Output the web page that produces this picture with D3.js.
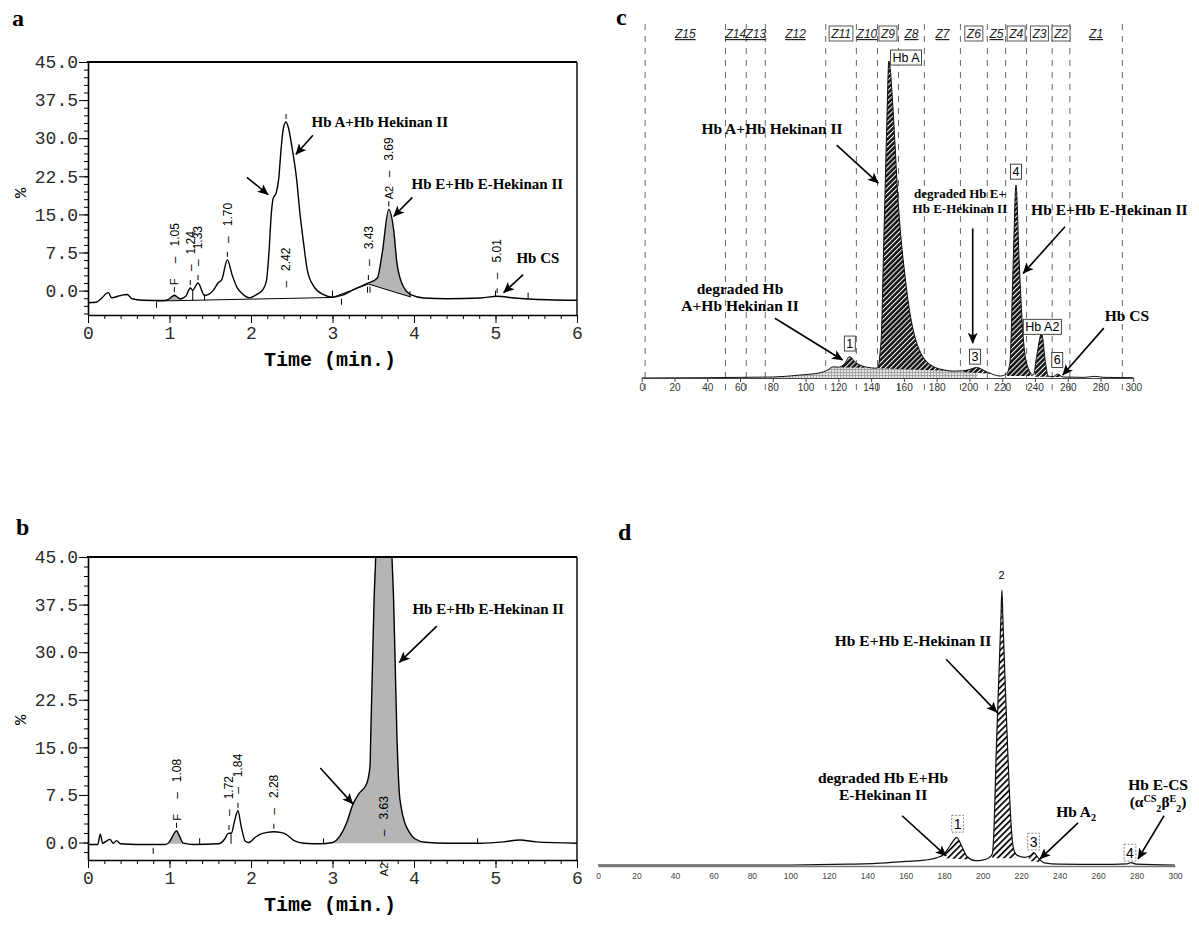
<!DOCTYPE html>
<html>
<head>
<meta charset="utf-8">
<script src="https://cdn.jsdelivr.net/npm/d3@7/dist/d3.min.js"></script>
<style>
  body { margin: 0; background: #fff; }
  svg { display: block; }
  .mono { font-family: "Liberation Mono", "DejaVu Sans Mono", monospace; }
  .note { font-family: "Liberation Serif", "DejaVu Serif", serif; font-weight: bold; }
  .sans { font-family: "Liberation Sans", Arial, sans-serif; }
</style>
</head>
<body>
<svg id="fig" width="1199" height="926"></svg>
<script>
// ---------- panel a : HPLC trace, time (min) vs %
const traceA = [[0,-2.4],[0.1,-2.3],[0.16,-1.6],[0.25,-0.4],[0.29,-1.4],[0.4,-0.95],[0.48,-0.75],[0.54,-1.6],
  [0.67,-1.9],[0.93,-1.95],[1.0,-1.6],[1.06,-0.9],[1.13,-1.6],[1.2,-1.1],[1.255,0.5],[1.285,0.1],[1.35,1.5],
  [1.43,-0.95],[1.54,0.1],[1.6,1.6],[1.64,2.1],[1.71,6.05],[1.77,3.0],[1.83,0.6],[1.89,-0.55],[1.98,-1.4],
  [2.07,-0.75],[2.15,0.3],[2.19,2.0],[2.22,7.4],[2.25,15.3],[2.27,18.0],[2.31,19.3],[2.34,22],[2.37,28],
  [2.40,32.2],[2.43,33.2],[2.46,32],[2.5,28.5],[2.56,21.9],[2.6,15.3],[2.65,8.75],[2.69,4.1],[2.77,0.85],
  [2.89,-0.8],[3.0,-1.3],[3.12,-0.9],[3.26,0.2],[3.44,1.5],[3.55,2.5],[3.61,7.4],[3.69,16.0],[3.75,12],
  [3.79,5.5],[3.85,1.5],[3.96,-0.8],[4.12,-1.45],[4.41,-1.6],[4.82,-1.45],[5.02,-1.1],[5.23,-1.45],
  [5.64,-1.8],[6.0,-1.9]];
const baseA = [[0.84,-2.05],[3.0,-1.35],[3.44,1.3],[3.96,-1.25]];
const fillA = [[0.98,1.16,-2.0,-1.95],[3.44,3.96,1.3,-1.25]];      // t0, t1, base0, base1
const dropA = [[1.285,0.1,-1.95]];
const eventsA = [[0.84,-2.8],[1.43,-1.3],[3.0,-0.6],[3.11,-2.2],[3.43,0.2],[3.46,0.2],[3.95,-0.7],[5.0,-0.6],[5.4,-1.0]];
// time, apex, name, label, label start (if placed inside the peak)
const peaksA = [[1.06,-0.9,"F","1.05"],[1.255,0.5,"","1.24"],[1.35,1.5,"","1.33"],[1.71,6.05,"","1.70"],
  [2.43,33.2,"","2.42",0.6],[3.44,1.5,"","3.43"],[3.69,16.0,"A2","3.69"],[5.02,-1.1,"","5.01"]];
const notesA = [
  {text: ["Hb A+Hb Hekinan II"], at: [3.58, 32.3], from: [2.76, 30.6], to: [2.55, 26.8]},
  {text: [], at: [0, 0], from: [1.95, 22.3], to: [2.21, 18.9]},
  {text: ["Hb E+Hb E-Hekinan II"], at: [4.9, 20.0], from: [3.98, 18.35], to: [3.75, 14.6]},
  {text: ["Hb CS"], at: [5.52, 5.4], from: [5.34, 3.16], to: [5.1, -0.4]}
];

// ---------- panel b
const traceB = [[0,-0.3],[0.12,-0.3],[0.15,1.3],[0.18,-0.1],[0.22,0.2],[0.27,0.5],[0.31,-0.1],[0.35,0.3],
  [0.4,-0.2],[0.6,-0.3],[0.95,-0.3],[1.0,0.1],[1.05,1.3],[1.086,1.85],[1.12,1.1],[1.17,-0.1],[1.3,-0.3],
  [1.6,-0.2],[1.68,0.6],[1.72,1.45],[1.76,1.5],[1.8,3.5],[1.84,5.0],[1.88,2.5],[1.93,0.2],[1.97,0],
  [2.05,0.8],[2.11,1.3],[2.2,1.6],[2.28,1.7],[2.36,1.6],[2.43,1.3],[2.53,0.3],[2.65,-0.1],[2.85,-0.2],
  [3.0,0],[3.1,1.2],[3.17,3.0],[3.25,6.0],[3.32,7.65],[3.42,9.3],[3.46,12.0],[3.47,17.2],[3.49,27.7],
  [3.51,38.2],[3.53,45],[3.58,75],[3.63,88],[3.68,75],[3.73,45],[3.75,38.2],[3.77,27.7],[3.79,17.2],
  [3.82,7.8],[3.84,5.75],[3.89,3.0],[3.95,1.5],[4.01,0.6],[4.14,0.05],[4.4,-0.1],[4.8,-0.1],[5.1,0.1],
  [5.3,0.4],[5.5,0.1],[6.0,-0.1]];
const baseB = [];
const fillB = [[0.98,1.17,-0.2,-0.2],[2.95,4.15,-0.1,-0.1]];
const dropB = [[1.755,1.45,-0.2]];
const eventsB = [[0.8,-1.3],[1.37,0.2],[2.89,0.2],[4.78,0.2]];
const peaksB = [[1.086,1.85,"F","1.08"],[1.73,1.5,"","1.72"],[1.84,5.0,"","1.84"],[2.28,1.7,"","2.28"],
  [3.63,88,"A2","3.63",1.0,-5.3]];
const notesB = [
  {text: ["Hb E+Hb E-Hekinan II"], at: [4.91, 36.0], from: [4.28, 34.1], to: [3.82, 28.4]},
  {text: [], at: [0, 0], from: [2.85, 11.75], to: [3.25, 6.1]}
];

const timeTicks = [0, 1, 2, 3, 4, 5, 6];
const pctTicks = [0, 7.5, 15, 22.5, 30, 37.5, 45];

// ---------- panel c : capillary electrophoresis, zones
const traceC = [[0,0],[40,0.1],[60,0.2],[80,0.3],[96.6,0.9],[108.8,1.6],[113,2.3],[116.9,3.4],[120,3.3],
  [124,4.5],[126.7,6.5],[131.2,4.5],[137.3,3.3],[143,3.0],[144.4,3.6],[145.5,8],[146.4,14.6],[147.4,35],
  [148.4,55],[149.5,76],[150.8,96.6],[151.5,95],[153,85],[154.5,72],[156,58],[158,44],[160.5,32],[163,22],
  [166,14],[169.5,8.5],[173,5.5],[178,3.5],[184,2.5],[190,2.1],[196,2.2],[200,2.6],[204.4,3.2],[210.5,1.9],
  [218.6,0.6],[222.5,1.2],[224.7,4.5],[226.7,35],[228.4,58.8],[230.4,35],[232.5,14.6],[234.9,4.5],[239,0.9],
  [241,6.5],[244,13.5],[246.5,4.5],[248,0.6],[251,0.4],[253.8,1.2],[257.2,0.3],[270,0.2],[276.6,0.5],
  [282,0.2],[300,0.1]];
const hatchPeaksC = [[121.5,136,3.2,3.1],[143.5,190,3.0,2.1],[196,213,1.8,1.3],[223,238.5,0.6,0.6],
  [240,248.5,0.4,0.4],[251.5,257,0.3,0.3]];
const greyZoneC = [78, 205];
const zoneBounds = [2.1, 51.1, 63.8, 75.4, 112.3, 131, 143.9, 156.7, 172.5, 194.5, 210.9, 222.1, 234.9, 250.5, 261.3, 293.3];
const zoneNames = ["Z15","Z14","Z13","Z12","Z11","Z10","Z9","Z8","Z7","Z6","Z5","Z4","Z3","Z2","Z1"];
const zoneBoxed = ["Z11","Z9","Z6","Z4","Z3","Z2"];
const boxesC = [[127,10.5,"1"],[161.3,97.7,"Hb A"],[203.4,6.5,"3"],[228.4,62.9,"4"],[244.5,15.6,"Hb A2"],[253.6,5.5,"6"]];
const notesC = [
  {text: ["Hb A+Hb Hekinan II"], at: [79.5, 74.3], from: [119, 71], to: [144.4, 59.4]},
  {text: ["degraded Hb", "A+Hb Hekinan II"], at: [60, 25.7], from: [81.3, 18.2], to: [122.6, 5.5]},
  {text: ["degraded Hb E+", "Hb E-Hekinan II"], at: [194.2, 54.8], from: [202, 45.6], to: [202, 10.6], small: true},
  {text: ["Hb E+Hb E-Hekinan II"], at: [285.4, 49.6], from: [258.3, 46.1], to: [232.8, 31.9]},
  {text: ["Hb CS"], at: [296.1, 17.4], from: [282, 15.2], to: [256.9, 0.9]}
];
const ceTicks = [0,20,40,60,80,100,120,140,160,180,200,220,240,260,280,300];

// ---------- panel d
const traceD = [[0,0],[100,0],[130,0.3],[150,0.8],[160,1.3],[170,1.8],[176,2.6],[180,4],[183,7],[186.5,10],
  [189,7],[192,3],[196,1.6],[200,1.8],[203,2.5],[205,4],[206,15],[207,40],[208.5,70],[209.5,90],[210,100],
  [210.5,90],[211.5,70],[213,42],[214.5,18],[216,6],[218,3.5],[222,2.8],[225,3.5],[226.5,4.5],[229,2.5],
  [232,0.8],[240,0.3],[260,0.2],[275,0.4],[277,0.9],[280,0.3],[300,0]];
const hatchPeaksD = [[180.5,192.5,2.5,2.0],[205,217,2.5,2.5],[224,230.5,1.5,1.0]];
const boxesD = [[187,15,"1"],[226.5,8.5,"3"],[276.6,4.5,"4"]];
const notesD = [
  {text: ["Hb E+Hb E-Hekinan II"], at: [163.8, 79.5], from: [181, 74.8], to: [207.5, 55.5]},
  {text: ["degraded Hb E+Hb", "E-Hekinan II"], at: [148.2, 30], from: [158.1, 17.9], to: [181, 3.3]},
  {text: ["Hb A|2"], at: [248.6, 17.5], from: [249.6, 15.3], to: [229.8, 2.2]},
  {text: ["Hb E-CS", "(α^CS|2β^E|2)"], at: [291.2, 27.3], from: [294.3, 17.9], to: [280.8, 2.2]}
];

// ================= drawing =================
const svg = d3.select("#fig");
const defs = svg.append("defs");

defs.append("marker").attr("id", "arr").attr("viewBox", "0 0 10 10")
  .attr("refX", 9.5).attr("refY", 5).attr("markerWidth", 11).attr("markerHeight", 11)
  .attr("markerUnits", "userSpaceOnUse").attr("orient", "auto")
  .append("path").attr("d", "M0,0.5 L10,5 L0,9.5 L2.5,5 z").attr("fill", "#000");

function stripes(id, size, bg, fg, w) {
  const p = defs.append("pattern").attr("id", id).attr("width", size).attr("height", size)
    .attr("patternUnits", "userSpaceOnUse").attr("patternTransform", "rotate(45)");
  p.append("rect").attr("width", size).attr("height", size).attr("fill", bg);
  p.append("line").attr("x1", 0.5).attr("x2", 0.5).attr("y1", 0).attr("y2", size)
    .attr("stroke", fg).attr("stroke-width", w);
}
stripes("hatchC", 3.6, "#111", "#fff", 1.1);
stripes("hatchD", 4.4, "#fff", "#111", 2.7);
const grid = defs.append("pattern").attr("id", "gridC").attr("width", 3).attr("height", 3)
  .attr("patternUnits", "userSpaceOnUse");
grid.append("rect").attr("width", 3).attr("height", 3).attr("fill", "#e4e4e4");
grid.append("path").attr("d", "M0.5,0V3M0,0.5H3").attr("stroke", "#909090").attr("stroke-width", 0.7);

// text with ^sup and |sub markers
function richText(sel, str, size) {
  const parts = str.split(/(?=[\^|])/);
  let shift = 0;
  parts.forEach(p => {
    let dy = 0, fs = size, s = p;
    if (p[0] === "^") { dy = -size * 0.35 - shift; shift = -size * 0.35; fs = size * 0.65; s = p.slice(1); }
    else if (p[0] === "|") {
      // subscript: first char only, rest back on baseline
      const sub = p[1], rest = p.slice(2);
      sel.append("tspan").attr("dy", size * 0.28 - shift).attr("font-size", size * 0.65).text(sub);
      shift = size * 0.28;
      if (rest) { sel.append("tspan").attr("dy", -shift).attr("font-size", size).text(rest); shift = 0; }
      return;
    } else if (shift !== 0) { dy = -shift; shift = 0; }
    sel.append("tspan").attr("dy", dy).attr("font-size", fs).text(s);
  });
}

function notes(g, x, y, list, size) {
  list.forEach(n => {
    const fs = n.small ? 13 : size;
    n.text.forEach((line, i) => {
      const t = g.append("text").attr("class", "note").attr("x", x(n.at[0]))
        .attr("y", y(n.at[1]) + i * (fs + 2)).attr("text-anchor", "middle").attr("font-size", fs)
        .style("white-space", "pre");
      richText(t, line, fs);
    });
    g.append("line").attr("x1", x(n.from[0])).attr("y1", y(n.from[1]))
      .attr("x2", x(n.to[0])).attr("y2", y(n.to[1]))
      .attr("stroke", "#000").attr("stroke-width", 1.6).attr("marker-end", "url(#arr)");
  });
}

function peakFills(plot, x, y, clipId, list, fill, top) {
  list.forEach(([u0, u1, b0, b1]) => {
    plot.append("path").attr("clip-path", `url(#${clipId})`)
      .attr("d", `M${x(u0)},${y(b0)}L${x(u1)},${y(b1)}L${x(u1)},${top}L${x(u0)},${top}Z`)
      .attr("fill", fill);
  });
}

function hplc(o) {
  const g = svg.append("g");
  const x = d3.scaleLinear().domain([0, 6]).range([88, 577]);
  const y = d3.scaleLinear().domain(o.yDomain).range(o.yRange);
  const top = o.yRange[1], bot = o.yRange[0];
  defs.append("clipPath").attr("id", "box" + o.id).append("rect")
    .attr("x", 88).attr("y", top).attr("width", 489).attr("height", bot - top);
  const line = d3.line().x(d => x(d[0])).y(d => y(d[1])).curve(d3.curveMonotoneX);
  const under = d3.area().x(d => x(d[0])).y0(bot).y1(d => y(d[1])).curve(d3.curveMonotoneX);
  defs.append("clipPath").attr("id", "under" + o.id).append("path").attr("d", under(o.trace));

  const plot = g.append("g").attr("clip-path", `url(#box${o.id})`);
  peakFills(plot, x, y, "under" + o.id, o.fills, "#b5b5b5", top);
  if (o.base.length) plot.append("path").attr("d", d3.line().x(d => x(d[0])).y(d => y(d[1]))(o.base))
    .attr("fill", "none").attr("stroke", "#000").attr("stroke-width", 1);
  plot.append("path").attr("d", line(o.trace)).attr("fill", "none")
    .attr("stroke", "#000").attr("stroke-width", 1.4);
  o.drops.forEach(([t, v0, v1]) => plot.append("line").attr("x1", x(t)).attr("x2", x(t))
    .attr("y1", y(v0)).attr("y2", y(v1)).attr("stroke", "#000").attr("stroke-width", 1));
  o.events.forEach(([t, v]) => g.append("line").attr("x1", x(t)).attr("x2", x(t))
    .attr("y1", y(v) - 3).attr("y2", y(v) + 3).attr("stroke", "#000").attr("stroke-width", 1));

  // retention-time labels, rotated
  o.peaks.forEach(([t, v, name, num, numAt, nameAt]) => {
    const px = x(t), py = y(v);
    if (py - 8 > top) g.append("line").attr("x1", px).attr("x2", px).attr("y1", py - 3).attr("y2", py - 8)
      .attr("stroke", "#000").attr("stroke-width", 1);
    const numStart = numAt != null ? y(numAt) : (name ? py - 32 : py - 17);
    g.append("text").attr("class", "sans").attr("font-size", 12).style("white-space", "pre")
      .attr("transform", `translate(${px + 4.3},${numStart}) rotate(-90)`).text("–   " + num);
    if (name) {
      const nameStart = nameAt != null ? y(nameAt) : py - 10;
      g.append("text").attr("class", "sans").attr("font-size", 11)
        .attr("transform", `translate(${px + 4},${nameStart}) rotate(-90)`).text(name);
    }
  });

  // axes
  const yAx = g.append("g").attr("transform", "translate(88,0)")
    .call(d3.axisLeft(y).tickValues(pctTicks).tickFormat(d3.format(".1f")).tickSize(9).tickSizeOuter(0).tickPadding(1));
  yAx.selectAll("text").attr("font-family", "Liberation Mono").attr("font-size", 18).attr("fill", "#2a2a2a");
  yAx.select(".domain").attr("stroke-width", 1.6);
  g.append("g").attr("transform", "translate(88,0)")
    .call(d3.axisLeft(y).tickValues(d3.range(o.minorFrom, 45.01, 1.5)).tickSize(4).tickFormat(""))
    .select(".domain").remove();
  const xAx = g.append("g").attr("transform", `translate(0,${bot})`)
    .call(d3.axisBottom(x).tickValues(timeTicks).tickFormat(d3.format("d")).tickSize(8).tickSizeOuter(0).tickPadding(3));
  xAx.selectAll("text").attr("font-family", "Liberation Mono").attr("font-size", 18).attr("fill", "#2a2a2a");
  xAx.select(".domain").attr("stroke-width", 1.6);
  g.append("g").attr("transform", `translate(0,${bot})`)
    .call(d3.axisBottom(x).tickValues(d3.range(0, 6.01, 0.2)).tickSize(4).tickFormat(""))
    .select(".domain").remove();
  g.append("line").attr("x1", 87).attr("x2", 577).attr("y1", top).attr("y2", top)
    .attr("stroke", "#000").attr("stroke-width", 2);
  g.append("line").attr("x1", 577).attr("x2", 577).attr("y1", top).attr("y2", bot)
    .attr("stroke", "#000").attr("stroke-width", 1.4);
  g.append("text").attr("class", "mono").attr("font-size", 20).attr("font-weight", "bold")
    .attr("x", 330).attr("y", bot + 51).attr("text-anchor", "middle").text("Time (min.)");
  g.append("text").attr("class", "mono").attr("font-size", 17)
    .attr("transform", `translate(26,${o.pctY}) rotate(-90)`).attr("text-anchor", "middle").text("%");
  g.append("text").attr("class", "note").attr("font-size", 24).attr("x", o.letter[0]).attr("y", o.letter[1]).text(o.id);
  notes(g, x, y, o.notes, 15);
}

hplc({id: "a", yDomain: [-4.8, 45], yRange: [315, 62], minorFrom: -4.5, pctY: 193, letter: [12, 26],
  trace: traceA, base: baseA, fills: fillA, drops: dropA, events: eventsA, peaks: peaksA, notes: notesA});
hplc({id: "b", yDomain: [-2.75, 45], yRange: [860, 557], minorFrom: -1.5, pctY: 720, letter: [16, 535],
  trace: traceB, base: baseB, fills: fillB, drops: dropB, events: eventsB, peaks: peaksB, notes: notesB});

// ---- boxed peak labels for c and d
function boxes(g, x, y, list, size, dashed) {
  list.forEach(([u, v, s]) => {
    const r = g.append("rect");
    const t = g.append("text").attr("class", "sans").attr("font-size", size)
      .attr("x", x(u)).attr("y", y(v) + size * 0.36).attr("text-anchor", "middle").text(s);
    const w = t.node().getComputedTextLength();
    r.attr("x", x(u) - w / 2 - 2).attr("y", y(v) - size * 0.6)
      .attr("width", w + 4).attr("height", size * 1.2).attr("fill", "#fff")
      .attr("stroke", dashed ? "#777" : "#333").attr("stroke-width", 0.9)
      .attr("stroke-dasharray", dashed ? "2,1.5" : null);
  });
}

// ---------- panel c
{
  const g = svg.append("g");
  const x = d3.scaleLinear().domain([0, 300]).range([641.7, 1133.3]);
  const y = d3.scaleLinear().domain([0, 100]).range([378, 50]);
  const line = d3.line().x(d => x(d[0])).y(d => y(d[1])).curve(d3.curveMonotoneX);
  const under = d3.area().x(d => x(d[0])).y0(y(0)).y1(d => y(d[1])).curve(d3.curveMonotoneX);
  defs.append("clipPath").attr("id", "underC").append("path").attr("d", under(traceC));

  zoneBounds.forEach(b => g.append("line").attr("x1", x(b)).attr("x2", x(b)).attr("y1", 24).attr("y2", 394)
    .attr("stroke", "#666").attr("stroke-width", 1).attr("stroke-dasharray", "6,6"));

  peakFills(g, x, y, "underC", [[greyZoneC[0], greyZoneC[1], 0, 0]], "url(#gridC)", 40);
  peakFills(g, x, y, "underC", hatchPeaksC, "url(#hatchC)", 40);
  g.append("path").attr("d", line(traceC)).attr("fill", "none").attr("stroke", "#111").attr("stroke-width", 1);

  const ax = g.append("g").attr("transform", `translate(0,${y(0)})`)
    .call(d3.axisBottom(x).tickValues(ceTicks).tickSize(4).tickSizeOuter(0).tickPadding(2));
  ax.selectAll("text").attr("font-family", "Liberation Sans").attr("font-size", 10).attr("fill", "#333");
  ax.selectAll("line,path").attr("stroke", "#444");

  zoneNames.forEach((nm, i) => {
    const cx = (x(zoneBounds[i]) + x(zoneBounds[i + 1])) / 2;
    const r = g.append("rect");
    const t = g.append("text").attr("class", "sans").attr("font-size", 12).attr("font-style", "italic")
      .attr("x", cx).attr("y", 38).attr("text-anchor", "middle").attr("fill", "#222").text(nm);
    if (zoneBoxed.includes(nm)) {
      const w = t.node().getComputedTextLength();
      r.attr("x", cx - w / 2 - 2).attr("y", 26).attr("width", w + 4).attr("height", 15)
        .attr("fill", "#fff").attr("stroke", "#444").attr("stroke-width", 0.9);
    } else { r.remove(); t.attr("text-decoration", "underline"); }
  });
  boxes(g, x, y, boxesC, 12.5, false);
  g.append("text").attr("class", "note").attr("font-size", 24).attr("x", 616).attr("y", 25).text("c");
  notes(g, x, y, notesC, 15.5);
}

// ---------- panel d
{
  const g = svg.append("g");
  const x = d3.scaleLinear().domain([0, 300]).range([598, 1175]);
  const y = d3.scaleLinear().domain([0, 100]).range([865, 590]);
  const line = d3.line().x(d => x(d[0])).y(d => y(d[1])).curve(d3.curveMonotoneX);
  const under = d3.area().x(d => x(d[0])).y0(y(0)).y1(d => y(d[1])).curve(d3.curveMonotoneX);
  defs.append("clipPath").attr("id", "underD").append("path").attr("d", under(traceD));

  peakFills(g, x, y, "underD", hatchPeaksD, "url(#hatchD)", 560);
  const ax = g.append("g").attr("transform", `translate(0,${y(0) + 1})`)
    .call(d3.axisBottom(x).tickValues(ceTicks).tickSize(0).tickSizeOuter(0).tickPadding(7));
  ax.selectAll("text").attr("font-family", "Liberation Sans").attr("font-size", 8.5).attr("fill", "#444");
  ax.select(".domain").attr("stroke", "#777").attr("stroke-width", 1.4);
  g.append("path").attr("d", line(traceD)).attr("fill", "none").attr("stroke", "#111").attr("stroke-width", 1.2);

  boxes(g, x, y, boxesD, 14, true);
  g.append("text").attr("class", "sans").attr("font-size", 11).attr("x", x(209.8)).attr("y", y(104))
    .attr("text-anchor", "middle").text("2");
  g.append("text").attr("class", "note").attr("font-size", 24).attr("x", 618).attr("y", 540).text("d");
  notes(g, x, y, notesD, 15.5);
}
</script>
</body>
</html>
